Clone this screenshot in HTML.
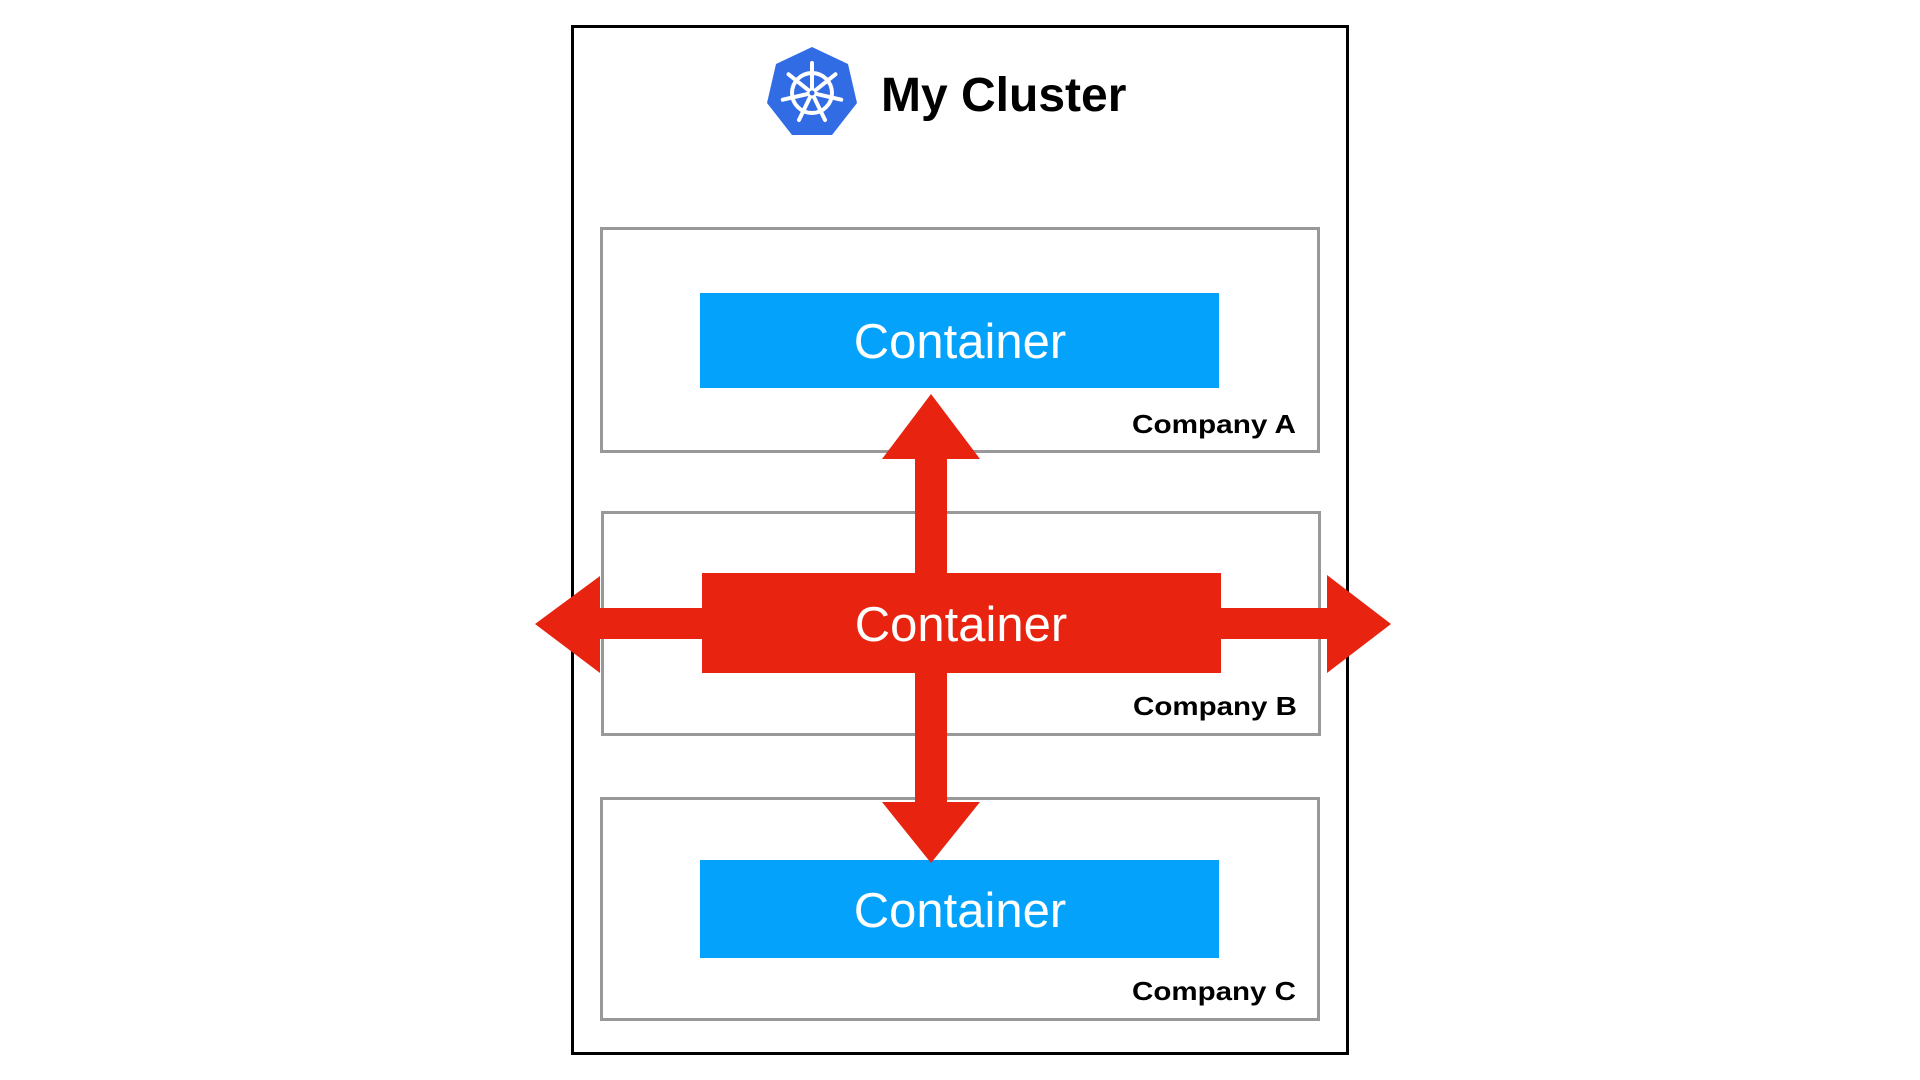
<!DOCTYPE html>
<html><head><meta charset="utf-8"><style>
html,body{margin:0;padding:0;background:#fff;}
body{width:1920px;height:1080px;position:relative;overflow:hidden;font-family:"Liberation Sans",sans-serif;}
.a{position:absolute;box-sizing:border-box;}
</style></head><body>
<div class="a" style="left:571px;top:25px;width:778px;height:1030px;border:3px solid #000;"></div>
<div class="a" style="left:600px;top:227px;width:720px;height:226px;border:3px solid #999;"></div>
<div class="a" style="left:601px;top:511px;width:720px;height:225px;border:3px solid #999;"></div>
<div class="a" style="left:600px;top:797px;width:720px;height:224px;border:3px solid #999;"></div>
<div class="a" style="left:700px;top:293px;width:519px;height:95px;background:#05a2fc;"></div>
<div class="a" style="left:700px;top:860px;width:519px;height:98px;background:#05a2fc;"></div>
<svg class="a" style="left:0;top:0" width="1920" height="1080">
<g fill="#e8230f">
<rect x="702" y="573" width="519" height="100"/>
<rect x="915" y="455" width="32" height="350"/>
<polygon points="882,459 980,459 931,394"/>
<polygon points="882,802 980,802 931,863"/>
<rect x="595" y="608" width="735" height="31"/>
<polygon points="600,576 600,673 535,624"/>
<polygon points="1327,575 1327,673 1391,624"/>
</g>
<g transform="translate(812,93)">
<polygon fill="#326ce5" points="0,-46 36,-29 45,10 20,42 -20,42 -45,10 -36,-29"/>
<g stroke="#fff" stroke-width="4" fill="none" stroke-linecap="round">
<circle r="20"/>
<g id="s"><line x1="0" y1="-5" x2="0" y2="-30"/></g>
<use href="#s" transform="rotate(51.4)"/><use href="#s" transform="rotate(102.8)"/><use href="#s" transform="rotate(154.3)"/>
<use href="#s" transform="rotate(205.7)"/><use href="#s" transform="rotate(257.1)"/><use href="#s" transform="rotate(308.6)"/>
</g>
<circle r="5" fill="#fff"/><circle r="2.5" fill="#326ce5"/>
</g>
<g font-family="Liberation Sans, sans-serif">
<text x="881" y="111" font-size="48" font-weight="bold" fill="#000">My Cluster</text>
<g font-size="49" fill="#fff" text-anchor="middle">
<text x="960" y="358">Container</text>
<text x="961" y="641">Container</text>
<text x="960" y="927">Container</text>
</g>
<g font-size="26" font-weight="bold" fill="#000">
<text x="1132" y="433" textLength="164" lengthAdjust="spacingAndGlyphs">Company A</text>
<text x="1133" y="715" textLength="164" lengthAdjust="spacingAndGlyphs">Company B</text>
<text x="1132" y="1000" textLength="164" lengthAdjust="spacingAndGlyphs">Company C</text>
</g>
</g>
</svg>
</body></html>
